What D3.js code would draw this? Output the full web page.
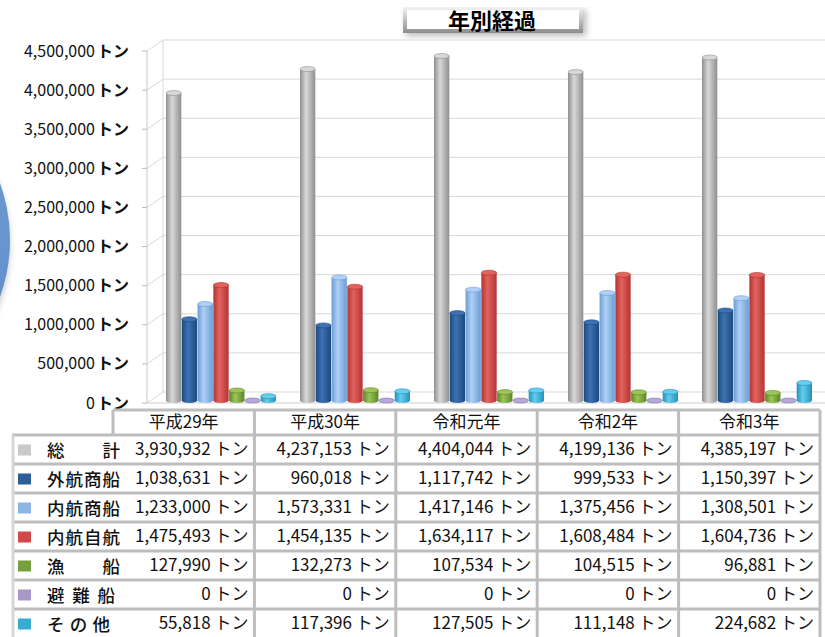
<!DOCTYPE html>
<html>
<head>
<meta charset="utf-8">
<script src="https://cdn.jsdelivr.net/npm/d3@7"></script>
<style>
  body { margin: 0; background: #fff; }
  svg { display: block; font-family: "Noto Sans CJK JP", "Noto Sans", sans-serif; }
</style>
</head>
<body>
<svg id="chart" width="825" height="637"></svg>
<script>
// data
const years = ['平成29年', '平成30年', '令和元年', '令和2年', '令和3年'];
const seriesNames = ['総　　計', '外航商船', '内航商船', '内航自航', '漁　　船', '避 難 船', 'そ の 他'];
const total = [3930932, 4237153, 4404044, 4199136, 4385197];
const gaikou = [1038631, 960018, 1117742, 999533, 1150397];
const naikou = [1233000, 1573331, 1417146, 1375456, 1308501];
const naikouJikou = [1475493, 1454135, 1634117, 1608484, 1604736];
const gyosen = [127990, 132273, 107534, 104515, 96881];
const hinansen = [0, 0, 0, 0, 0];
const sonota = [55818, 117396, 127505, 111148, 224682];
const yTicks = [0, 500000, 1000000, 1500000, 2000000, 2500000, 3000000, 3500000, 4000000, 4500000];

const seriesValues = [total, gaikou, naikou, naikouJikou, gyosen, hinansen, sonota];
// [edge, highlight, legend key]
const seriesColors = [
  ['#8f8f8f', '#d8d8d8', '#c9c9c9'],
  ['#1d4a7e', '#3d72b2', '#2c5f97'],
  ['#6a9cd6', '#b0d0f4', '#8db4e2'],
  ['#b23434', '#e2625c', '#d0494c'],
  ['#5a8628', '#9cc456', '#77a03c'],
  ['#8a78b2', '#b9a9d8', '#a898c8'],
  ['#2392bb', '#66cdee', '#3aaccf']
];

const svg = d3.select('#chart');
const defs = svg.append('defs');

const fmt = d3.format(',');

// partial pie from the neighbouring chart, cut at the left edge
const pieGrad = defs.append('radialGradient').attr('id', 'pieGrad')
  .attr('cx', '70%').attr('cy', '40%').attr('r', '70%');
pieGrad.append('stop').attr('offset', '0%').attr('stop-color', '#7fa8dc');
pieGrad.append('stop').attr('offset', '100%').attr('stop-color', '#4a7cbd');
defs.append('filter').attr('id', 'blur').append('feGaussianBlur').attr('stdDeviation', 3);
svg.append('circle').attr('cx', -157).attr('cy', 246).attr('r', 167)
  .attr('fill', '#999').attr('opacity', 0.5).attr('filter', 'url(#blur)');
svg.append('circle').attr('cx', -157).attr('cy', 240).attr('r', 167)
  .attr('fill', 'url(#pieGrad)');

// scales: front (axis labels), back wall, bars
const yFront = d3.scaleLinear().domain([0, 4500000]).range([403, 51]);
const yBack = v => yFront(v) - 11;
const yBar = d3.scaleLinear().domain([0, 4500000]).range([398, 46]);
const frontX = 147, backX = 163, rightX = 825;

const x = d3.scaleBand().domain(years).range([154, 824]).paddingInner(0.179).paddingOuter(0.0895);
const xs = d3.scaleBand().domain(d3.range(seriesNames.length)).range([0, x.bandwidth()]).paddingInner(0.03);

// walls and gridlines
const grid = svg.append('g').attr('stroke', '#d9d9d9').attr('fill', 'none');
grid.selectAll('.hg').data(yTicks).join('line')
  .attr('x1', backX).attr('x2', rightX)
  .attr('y1', d => yBack(d)).attr('y2', d => yBack(d));
grid.selectAll('.sg').data(yTicks).join('line')
  .attr('x1', frontX).attr('x2', backX)
  .attr('y1', d => yFront(d)).attr('y2', d => yBack(d));
grid.append('line').attr('x1', backX).attr('x2', backX)
  .attr('y1', yBack(4500000)).attr('y2', yBack(0));
grid.append('line').attr('x1', frontX).attr('x2', frontX)
  .attr('y1', yFront(4500000)).attr('y2', yFront(0)).attr('stroke', '#c8c8c8');
grid.append('line').attr('x1', frontX).attr('x2', rightX)
  .attr('y1', yFront(0)).attr('y2', yFront(0)).attr('stroke', '#cfcfcf');

// y axis labels
const yAxis = svg.append('g');
yAxis.selectAll('.tick').data(yTicks).join('line')
  .attr('x1', 142).attr('x2', frontX)
  .attr('y1', d => yFront(d)).attr('y2', d => yFront(d))
  .attr('stroke', '#bbb');
const yLab = yAxis.selectAll('text').data(yTicks).join('text')
  .attr('x', 129).attr('y', d => yFront(d))
  .attr('dy', '0.35em').attr('text-anchor', 'end')
  .attr('font-size', 16).attr('fill', '#111');
yLab.append('tspan').text(d => fmt(d));
yLab.append('tspan').attr('dx', 2).attr('font-weight', 'bold').text('トン');

// cylinder gradients
seriesColors.forEach((c, i) => {
  const g = defs.append('linearGradient').attr('id', 'cyl' + i)
    .attr('x1', '0%').attr('x2', '100%').attr('y1', '0%').attr('y2', '0%');
  g.append('stop').attr('offset', '0%').attr('stop-color', c[0]);
  g.append('stop').attr('offset', '40%').attr('stop-color', c[1]);
  g.append('stop').attr('offset', '100%').attr('stop-color', c[0]);
});

// bars
const ry = 2.5;
const groups = svg.append('g').selectAll('g').data(years).join('g')
  .attr('transform', d => `translate(${x(d)},0)`);
const bars = groups.selectAll('g').data((d, j) => seriesValues.map((s, i) => ({ i, v: s[j] })))
  .join('g');
bars.append('rect')
  .attr('x', d => xs(d.i)).attr('width', xs.bandwidth())
  .attr('y', d => yBar(d.v) + ry)
  .attr('height', d => Math.max(0, yBar(0) - yBar(d.v)))
  .attr('fill', d => `url(#cyl${d.i})`);
bars.append('ellipse')
  .attr('cx', d => xs(d.i) + xs.bandwidth() / 2).attr('cy', yBar(0) + ry)
  .attr('rx', xs.bandwidth() / 2).attr('ry', ry)
  .attr('fill', d => `url(#cyl${d.i})`);
bars.append('ellipse')
  .attr('cx', d => xs(d.i) + xs.bandwidth() / 2).attr('cy', d => yBar(d.v) + ry)
  .attr('rx', xs.bandwidth() / 2).attr('ry', ry)
  .attr('fill', d => seriesColors[d.i][1]).attr('stroke', d => seriesColors[d.i][0]).attr('stroke-width', 0.6);

// title box
const tb = svg.append('g');
const tGrad = defs.append('linearGradient').attr('id', 'tGrad').attr('x1', 0).attr('x2', 0).attr('y1', 0).attr('y2', 1);
tGrad.append('stop').attr('offset', '0%').attr('stop-color', '#f4f4f4');
tGrad.append('stop').attr('offset', '100%').attr('stop-color', '#8c8c8c');
tb.append('rect').attr('x', 406).attr('y', 10).attr('width', 180).attr('height', 26)
  .attr('fill', '#bbb').attr('filter', 'url(#blur)');
tb.append('rect').attr('x', 403).attr('y', 7).attr('width', 180).attr('height', 26).attr('fill', 'url(#tGrad)');
tb.append('rect').attr('x', 407).attr('y', 10).attr('width', 172).attr('height', 19).attr('fill', '#fff');
tb.append('text').attr('x', 492).attr('y', 21).attr('dy', '0.35em').attr('text-anchor', 'middle')
  .attr('font-size', 22).attr('font-weight', 'bold').attr('fill', '#000').text('年別経過');

// data table
const col = d3.scaleBand().domain(years).range([113, 820]);
const rowTop = 435, rowH = 29;
const row = d3.scaleBand().domain(d3.range(seriesNames.length)).range([rowTop, rowTop + rowH * seriesNames.length]);
const table = svg.append('g');
table.append('rect').attr('x', 113).attr('y', 409).attr('width', 712).attr('height', 228).attr('fill', '#fff');
table.append('rect').attr('x', 0).attr('y', 434).attr('width', 113).attr('height', 203).attr('fill', '#fff');

table.selectAll('.hdr').data(years).join('text')
  .attr('x', d => col(d) + col.bandwidth() / 2).attr('y', 422).attr('dy', '0.35em')
  .attr('text-anchor', 'middle').attr('font-size', 17).attr('fill', '#111').text(d => d);

const cells = table.selectAll('.row').data(seriesValues).join('g');
cells.selectAll('text').data(s => s.map((v, j) => ({ v, j }))).join('text')
  .attr('x', d => col(years[d.j]) + col.bandwidth() - 6)
  .attr('y', function () { return row(seriesValues.indexOf(d3.select(this.parentNode).datum())) + rowH / 2; })
  .attr('dy', '0.35em').attr('text-anchor', 'end')
  .attr('font-size', 17).attr('fill', '#111')
  .text(d => fmt(d.v) + ' トン');

// legend column
table.selectAll('.key').data(seriesNames).join('rect')
  .attr('x', 18).attr('width', 13).attr('height', 11)
  .attr('y', (d, i) => row(i) + rowH / 2 - 5)
  .attr('fill', (d, i) => seriesColors[i][2]);
table.selectAll('.lab').data(seriesNames).join('text')
  .attr('x', 47).attr('y', (d, i) => row(i) + rowH / 2 + 1).attr('dy', '0.35em')
  .attr('font-size', 17.5).attr('font-weight', 500).attr('fill', '#111')
  .attr('textLength', (d, i) => i === 5 ? 68 : i === 6 ? 63 : 73)
  .attr('lengthAdjust', 'spacing')
  .text(d => d);

// table borders
const bc = '#bdbdbd';
const borders = table.append('g').attr('stroke', bc).attr('stroke-width', 3);
borders.append('line').attr('x1', 113).attr('x2', 820).attr('y1', 410).attr('y2', 410);
borders.selectAll('.h').data(d3.range(seriesNames.length)).join('line')
  .attr('x1', 12).attr('x2', 820).attr('y1', d => row(d)).attr('y2', d => row(d));
borders.append('line').attr('x1', 113).attr('x2', 113).attr('y1', 410).attr('y2', 435);
borders.selectAll('.v').data(years.slice(1)).join('line')
  .attr('x1', d => col(d)).attr('x2', d => col(d)).attr('y1', 410).attr('y2', 637);
borders.append('line').attr('x1', 820).attr('x2', 820).attr('y1', 410).attr('y2', 637);
borders.append('line').attr('x1', 13).attr('x2', 13).attr('y1', 435).attr('y2', 637).attr('stroke', '#d6d6d6');
</script>
</body>
</html>
